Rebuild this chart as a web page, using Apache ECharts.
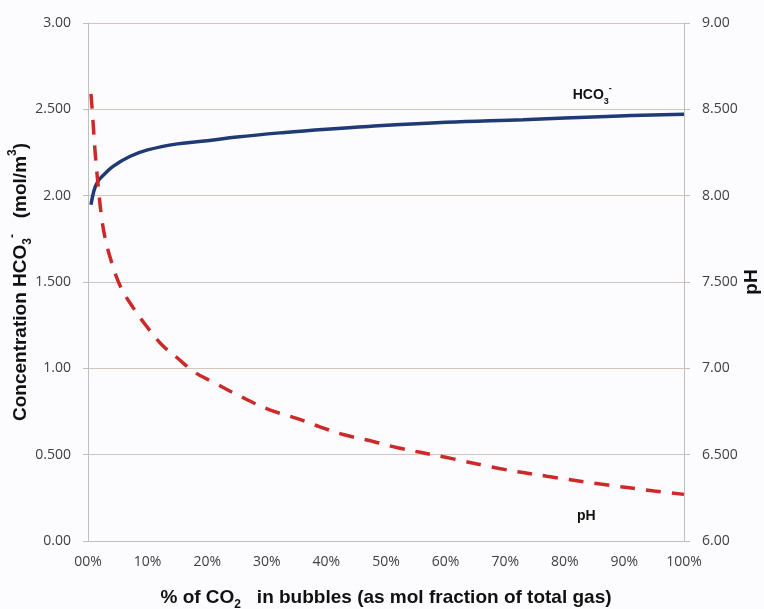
<!DOCTYPE html>
<html>
<head>
<meta charset="utf-8">
<script src="https://cdn.jsdelivr.net/npm/echarts@6/dist/echarts.min.js"></script>
<style>
html,body{margin:0;padding:0;background:#fcfcfe;}
#chart{width:764px;height:609px;}
</style>
</head>
<body>
<div id="chart"></div>
<script>
// ---- data ----
const hco3X = [0.5, 0.8, 1.2, 1.8, 2.6, 4.2, 7, 10, 15, 20, 25, 33, 40, 47, 60, 73, 87, 100];
const hco3Y = [1.947, 2.00, 2.05, 2.09, 2.12, 2.17, 2.227, 2.265, 2.30, 2.318, 2.34, 2.366, 2.385, 2.401, 2.425, 2.44, 2.459, 2.472];
const phX = [0.5, 0.8, 1.2, 1.7, 2.3, 2.9, 4.0, 5.5, 7.6, 9.8, 12.3, 15, 18, 21, 26, 30.5, 35, 39, 43, 48, 52, 60, 69, 77, 86, 95, 100];
const phY = [8.59, 8.45, 8.25, 8.06, 7.87, 7.75, 7.61, 7.47, 7.35, 7.245, 7.14, 7.06, 6.975, 6.92, 6.83, 6.76, 6.71, 6.66, 6.615, 6.575, 6.54, 6.485, 6.42, 6.375, 6.33, 6.29, 6.27];
const xTickLabels = ['00%', '10%', '20%', '30%', '40%', '50%', '60%', '70%', '80%', '90%', '100%'];
const leftTickLabels = ['0.00', '0.500', '1.00', '1.500', '2.00', '2.500', '3.00'];
const rightTickLabels = ['6.00', '6.500', '7.00', '7.500', '8.00', '8.500', '9.00'];
const xTitle = '{b|% of CO}{sub|2}{b|   in bubbles (as mol fraction of total gas)}';
const leftTitle = '{b|Concentration HCO}{sub|3}{sup|-}{b|   (mol/m}{sup|3}{b|)}';
const rightTitle = '{b|pH}';
const hco3Label = '{b|HCO}{sub|3}{sup|-}';
const phLabel = '{b|pH}';
const hco3LabelPos = [84.6, 2.585];
const phLabelPos = [83.6, 6.145];

// ---- chart ----
const chart = echarts.init(document.getElementById('chart'), null, {renderer: 'canvas'});
const tickFont = {fontFamily: 'Open Sans', fontSize: 14, color: '#404040'};
const axisGray = '#bfbfbf';
function richTitle(size) {
  return {
    b: {fontFamily: 'Liberation Sans', fontSize: size, fontWeight: 'bold', color: '#111', lineHeight: size + 8, verticalAlign: 'middle'},
    sub: {fontFamily: 'Liberation Sans', fontSize: Math.round(size * 0.62), fontWeight: 'bold', color: '#111', lineHeight: size + 8, verticalAlign: 'bottom'},
    sup: {fontFamily: 'Liberation Sans', fontSize: Math.round(size * 0.62), fontWeight: 'bold', color: '#111', lineHeight: size + 8, verticalAlign: 'top'}
  };
}

chart.setOption({
  backgroundColor: '#fcfcfe',
  animation: false,
  grid: {left: 88, right: 80, top: 23, bottom: 68, outerBoundsMode: 'none', containLabel: false},
  xAxis: {
    type: 'value', min: 0, max: 100, interval: 10,
    name: xTitle, nameMoveOverlap: false,
    nameLocation: 'middle', nameGap: 43, nameTextStyle: {rich: richTitle(19)},
    axisLine: {show: true, lineStyle: {color: axisGray, width: 1}},
    axisTick: {show: false},
    splitLine: {show: false},
    axisLabel: Object.assign({margin: 14, formatter: v => xTickLabels[Math.round(v / 10)]}, tickFont)
  },
  yAxis: [{
    type: 'value', min: 0, max: 3, interval: 0.5, position: 'left',
    name: leftTitle, nameMoveOverlap: false,
    nameLocation: 'middle', nameGap: 54, nameTextStyle: {rich: richTitle(19)},
    axisLine: {show: true, lineStyle: {color: axisGray, width: 1}},
    axisTick: {show: true, length: 5, lineStyle: {color: axisGray}},
    splitLine: {show: true, lineStyle: {color: '#d6c6ba', width: 1}},
    axisLabel: Object.assign({margin: 17, formatter: v => leftTickLabels[Math.round(v / 0.5)]}, tickFont)
  }, {
    type: 'value', min: 6, max: 9, interval: 0.5, position: 'right',
    name: rightTitle, nameMoveOverlap: false,
    nameLocation: 'middle', nameGap: 54, nameTextStyle: {rich: richTitle(19)},
    axisLine: {show: true, lineStyle: {color: axisGray, width: 1}},
    axisTick: {show: true, length: 6, lineStyle: {color: axisGray}},
    splitLine: {show: false},
    axisLabel: Object.assign({margin: 18, formatter: v => rightTickLabels[Math.round((v - 6) / 0.5)]}, tickFont)
  }],
  series: [{
    name: 'HCO3',
    type: 'line', yAxisIndex: 0, smooth: 0.4, showSymbol: false,
    data: hco3X.map((x, i) => [x, hco3Y[i]]),
    lineStyle: {color: '#1f3a75', width: 3.5},
    itemStyle: {color: '#1f3a75'},
    markPoint: {
      symbol: 'circle', symbolSize: 0,
      label: {show: true, position: 'inside', formatter: hco3Label, rich: richTitle(14)},
      data: [{coord: hco3LabelPos}]
    }
  }, {
    name: 'pH',
    type: 'line', yAxisIndex: 1, smooth: 0.4, showSymbol: false,
    data: phX.map((x, i) => [x, phY[i]]),
    lineStyle: {color: '#cc2a29', width: 3.5, type: [15, 11]},
    itemStyle: {color: '#cc2a29'},
    markPoint: {
      symbol: 'circle', symbolSize: 0,
      label: {show: true, position: 'inside', formatter: phLabel, rich: richTitle(14)},
      data: [{coord: phLabelPos}]
    }
  }]
});
</script>
</body>
</html>
